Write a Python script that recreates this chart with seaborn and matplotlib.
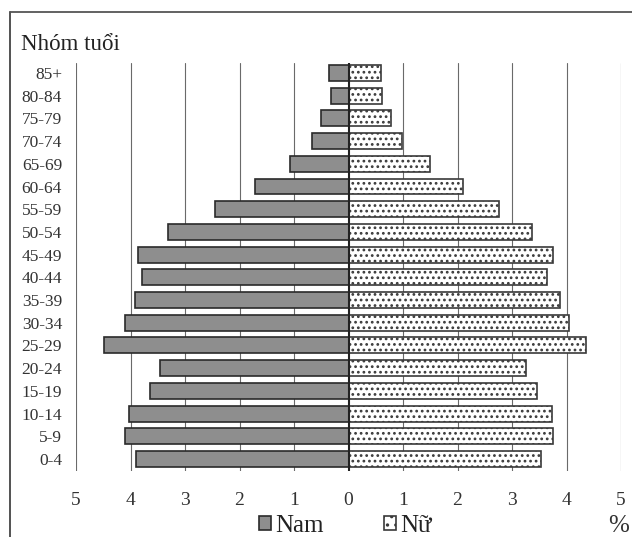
import numpy as np
import pandas as pd
import matplotlib
matplotlib.use("Agg")
import matplotlib.pyplot as plt
from matplotlib.patches import Patch
from matplotlib.lines import Line2D
import seaborn as sns

# Nhóm tuổi, từ trên xuống dưới
age_groups = ["85+", "80-84", "75-79", "70-74", "65-69", "60-64", "55-59",
              "50-54", "45-49", "40-44", "35-39", "30-34", "25-29", "20-24",
              "15-19", "10-14", "5-9", "0-4"]
# Tỷ lệ (%) nam và nữ
nam = [0.35, 0.33, 0.50, 0.67, 1.07, 1.72, 2.45, 3.31, 3.86, 3.79, 3.91,
       4.10, 4.48, 3.46, 3.65, 4.02, 4.10, 3.90]
nu = [0.59, 0.61, 0.78, 0.99, 1.49, 2.11, 2.76, 3.37, 3.76, 3.65, 3.88,
      4.04, 4.35, 3.26, 3.45, 3.74, 3.76, 3.53]
x_ticks = [-5, -4, -3, -2, -1, 0, 1, 2, 3, 4, 5]

sns.set_style("white")
plt.rcParams["font.family"] = ["Liberation Serif", "DejaVu Serif"]
plt.rcParams["hatch.linewidth"] = 1.2

df = pd.DataFrame({"age": age_groups, "nam": nam, "nu": nu})
df["nam_neg"] = -df["nam"]

fig = plt.figure(figsize=(6.32, 5.37), dpi=100)
ax = fig.add_axes([76 / 632, 1 - 471 / 537, (621 - 76) / 632, (471 - 63) / 537])

edge = "#2a2a2a"
sns.barplot(data=df, x="nam_neg", y="age", orient="h", order=age_groups,
            color="#8e8e8e", saturation=1, width=0.7,
            edgecolor=edge, linewidth=1.2, ax=ax)
sns.barplot(data=df, x="nu", y="age", orient="h", order=age_groups,
            color="white", saturation=1, width=0.7, hatch="...",
            edgecolor="#3a3a3a", linewidth=1.2, ax=ax)

# Lưới dọc
ax.set_axisbelow(True)
for xv in x_ticks:
    if xv != 0:
        ax.axvline(xv, color="#6a6a6a", linewidth=0.8, zorder=0)
ax.axvline(0, color="#222222", linewidth=1.5, zorder=5)

ax.set_xlim(-5, 5)
ax.set_ylim(17.53, -0.44)
ax.set_xticks(x_ticks)
ax.set_xticklabels([str(abs(v)) for v in x_ticks])
ax.tick_params(axis="x", length=0, pad=15, labelsize=14, colors="#333333")
ax.tick_params(axis="y", length=0, pad=10, labelsize=12.5, colors="#333333")
ax.set_xlabel("")
ax.set_ylabel("")
for s in ax.spines.values():
    s.set_visible(False)

fig.text(21 / 632, 1 - 44 / 537, "Nhóm tuổi", fontsize=16.5, va="center",
         ha="left", color="#222222")
fig.text(619 / 632, 1 - 526 / 537, "%", fontsize=18, va="center",
         ha="center", color="#333333")

handles = [Patch(facecolor="#8e8e8e", edgecolor=edge, linewidth=1.2, label="Nam"),
           Patch(facecolor="white", edgecolor="#3a3a3a", linewidth=1.2,
                 hatch="..", label="Nữ")]
fig.legend(handles=handles, loc="center", bbox_to_anchor=(0.546, 1 - 526 / 537),
           ncol=2, frameon=False, fontsize=18, handlelength=0.5,
           handleheight=0.5, handletextpad=0.15, columnspacing=2.4,
           borderpad=0, labelcolor="#222222")

# Khung ngoài
fig.add_artist(Line2D([10 / 632, 10 / 632], [0, 1 - 12 / 537],
                      color="#444444", linewidth=1.3))
fig.add_artist(Line2D([10 / 632, 1], [1 - 12 / 537, 1 - 12 / 537],
                      color="#555555", linewidth=1.3))

fig.savefig("out.png", dpi=100, facecolor="white")
